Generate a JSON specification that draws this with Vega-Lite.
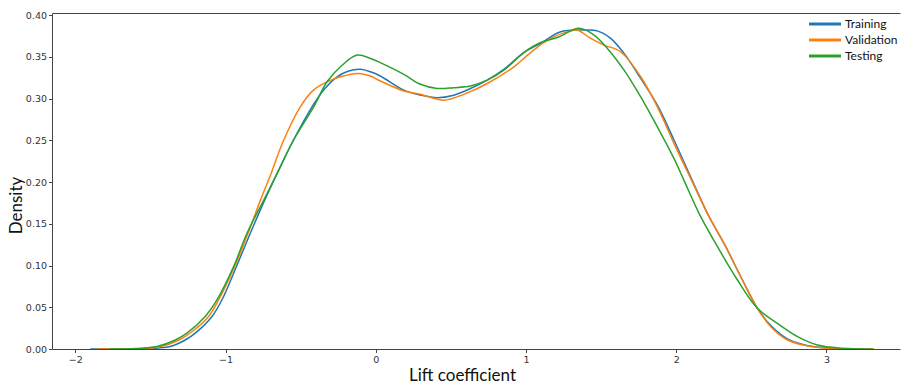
{
  "$schema": "https://vega.github.io/schema/vega-lite/v6.json",
  "width": 848,
  "height": 336,
  "autosize": {"type": "none"},
  "padding": {"left": 52, "top": 13, "right": 1, "bottom": 36},
  "config": {"view": {"stroke": null}, "font": "DejaVu Sans"},
  "data": {"values": [
    {"set": "Training", "x": -1.9, "y": 0},
    {"set": "Training", "x": -1.6, "y": 0.0003},
    {"set": "Training", "x": -1.45, "y": 0.0012},
    {"set": "Training", "x": -1.368, "y": 0.003},
    {"set": "Training", "x": -1.268, "y": 0.0108},
    {"set": "Training", "x": -1.201, "y": 0.019},
    {"set": "Training", "x": -1.09, "y": 0.039},
    {"set": "Training", "x": -1.024, "y": 0.0587},
    {"set": "Training", "x": -0.928, "y": 0.0986},
    {"set": "Training", "x": -0.835, "y": 0.1386},
    {"set": "Training", "x": -0.74, "y": 0.178},
    {"set": "Training", "x": -0.657, "y": 0.21},
    {"set": "Training", "x": -0.548, "y": 0.25},
    {"set": "Training", "x": -0.424, "y": 0.29},
    {"set": "Training", "x": -0.348, "y": 0.31},
    {"set": "Training", "x": -0.257, "y": 0.326},
    {"set": "Training", "x": -0.18, "y": 0.333},
    {"set": "Training", "x": -0.102, "y": 0.335},
    {"set": "Training", "x": -0.035, "y": 0.332},
    {"set": "Training", "x": 0.03, "y": 0.327},
    {"set": "Training", "x": 0.187, "y": 0.31},
    {"set": "Training", "x": 0.3, "y": 0.304},
    {"set": "Training", "x": 0.409, "y": 0.301},
    {"set": "Training", "x": 0.52, "y": 0.304},
    {"set": "Training", "x": 0.631, "y": 0.312},
    {"set": "Training", "x": 0.742, "y": 0.322},
    {"set": "Training", "x": 0.853, "y": 0.335},
    {"set": "Training", "x": 0.986, "y": 0.355},
    {"set": "Training", "x": 1.097, "y": 0.366},
    {"set": "Training", "x": 1.231, "y": 0.38},
    {"set": "Training", "x": 1.364, "y": 0.382},
    {"set": "Training", "x": 1.475, "y": 0.381},
    {"set": "Training", "x": 1.564, "y": 0.372},
    {"set": "Training", "x": 1.653, "y": 0.354},
    {"set": "Training", "x": 1.764, "y": 0.324},
    {"set": "Training", "x": 1.875, "y": 0.292},
    {"set": "Training", "x": 1.986, "y": 0.25},
    {"set": "Training", "x": 2.097, "y": 0.206},
    {"set": "Training", "x": 2.208, "y": 0.1625},
    {"set": "Training", "x": 2.33, "y": 0.1225},
    {"set": "Training", "x": 2.441, "y": 0.0826},
    {"set": "Training", "x": 2.541, "y": 0.0487},
    {"set": "Training", "x": 2.63, "y": 0.028},
    {"set": "Training", "x": 2.741, "y": 0.012},
    {"set": "Training", "x": 2.85, "y": 0.005},
    {"set": "Training", "x": 2.95, "y": 0.002},
    {"set": "Training", "x": 3.1, "y": 0.0004},
    {"set": "Training", "x": 3.25, "y": 0},
    {"set": "Validation", "x": -1.85, "y": 0},
    {"set": "Validation", "x": -1.6, "y": 0.0004},
    {"set": "Validation", "x": -1.45, "y": 0.002},
    {"set": "Validation", "x": -1.31, "y": 0.0108},
    {"set": "Validation", "x": -1.2, "y": 0.024},
    {"set": "Validation", "x": -1.113, "y": 0.039},
    {"set": "Validation", "x": -1.046, "y": 0.0587},
    {"set": "Validation", "x": -0.94, "y": 0.0986},
    {"set": "Validation", "x": -0.85, "y": 0.1386},
    {"set": "Validation", "x": -0.768, "y": 0.178},
    {"set": "Validation", "x": -0.697, "y": 0.21},
    {"set": "Validation", "x": -0.613, "y": 0.25},
    {"set": "Validation", "x": -0.502, "y": 0.29},
    {"set": "Validation", "x": -0.415, "y": 0.31},
    {"set": "Validation", "x": -0.324, "y": 0.32},
    {"set": "Validation", "x": -0.235, "y": 0.326},
    {"set": "Validation", "x": -0.115, "y": 0.33},
    {"set": "Validation", "x": -0.035, "y": 0.327},
    {"set": "Validation", "x": 0.03, "y": 0.321},
    {"set": "Validation", "x": 0.187, "y": 0.309},
    {"set": "Validation", "x": 0.298, "y": 0.305},
    {"set": "Validation", "x": 0.453, "y": 0.298},
    {"set": "Validation", "x": 0.586, "y": 0.305},
    {"set": "Validation", "x": 0.742, "y": 0.318},
    {"set": "Validation", "x": 0.92, "y": 0.338},
    {"set": "Validation", "x": 1.031, "y": 0.355},
    {"set": "Validation", "x": 1.164, "y": 0.372},
    {"set": "Validation", "x": 1.297, "y": 0.381},
    {"set": "Validation", "x": 1.342, "y": 0.382},
    {"set": "Validation", "x": 1.431, "y": 0.372},
    {"set": "Validation", "x": 1.519, "y": 0.364},
    {"set": "Validation", "x": 1.63, "y": 0.356},
    {"set": "Validation", "x": 1.764, "y": 0.326},
    {"set": "Validation", "x": 1.875, "y": 0.29},
    {"set": "Validation", "x": 1.986, "y": 0.246},
    {"set": "Validation", "x": 2.097, "y": 0.204},
    {"set": "Validation", "x": 2.208, "y": 0.1625},
    {"set": "Validation", "x": 2.33, "y": 0.1225},
    {"set": "Validation", "x": 2.441, "y": 0.0826},
    {"set": "Validation", "x": 2.541, "y": 0.0487},
    {"set": "Validation", "x": 2.63, "y": 0.0267},
    {"set": "Validation", "x": 2.741, "y": 0.0108},
    {"set": "Validation", "x": 2.896, "y": 0.003},
    {"set": "Validation", "x": 3.05, "y": 0.0006},
    {"set": "Validation", "x": 3.32, "y": 0},
    {"set": "Testing", "x": -1.77, "y": 0},
    {"set": "Testing", "x": -1.6, "y": 0.0005},
    {"set": "Testing", "x": -1.456, "y": 0.003},
    {"set": "Testing", "x": -1.334, "y": 0.0108},
    {"set": "Testing", "x": -1.257, "y": 0.019},
    {"set": "Testing", "x": -1.135, "y": 0.039},
    {"set": "Testing", "x": -1.057, "y": 0.0587},
    {"set": "Testing", "x": -0.946, "y": 0.0986},
    {"set": "Testing", "x": -0.857, "y": 0.1386},
    {"set": "Testing", "x": -0.746, "y": 0.178},
    {"set": "Testing", "x": -0.657, "y": 0.21},
    {"set": "Testing", "x": -0.548, "y": 0.25},
    {"set": "Testing", "x": -0.413, "y": 0.29},
    {"set": "Testing", "x": -0.324, "y": 0.32},
    {"set": "Testing", "x": -0.235, "y": 0.338},
    {"set": "Testing", "x": -0.124, "y": 0.352},
    {"set": "Testing", "x": -0.035, "y": 0.348},
    {"set": "Testing", "x": 0.03, "y": 0.343},
    {"set": "Testing", "x": 0.187, "y": 0.329},
    {"set": "Testing", "x": 0.298, "y": 0.317},
    {"set": "Testing", "x": 0.409, "y": 0.312},
    {"set": "Testing", "x": 0.52, "y": 0.313},
    {"set": "Testing", "x": 0.631, "y": 0.315},
    {"set": "Testing", "x": 0.742, "y": 0.322},
    {"set": "Testing", "x": 0.853, "y": 0.334},
    {"set": "Testing", "x": 0.986, "y": 0.355},
    {"set": "Testing", "x": 1.097, "y": 0.367},
    {"set": "Testing", "x": 1.208, "y": 0.373},
    {"set": "Testing", "x": 1.353, "y": 0.384},
    {"set": "Testing", "x": 1.453, "y": 0.376},
    {"set": "Testing", "x": 1.542, "y": 0.36},
    {"set": "Testing", "x": 1.653, "y": 0.334},
    {"set": "Testing", "x": 1.764, "y": 0.302},
    {"set": "Testing", "x": 1.875, "y": 0.266},
    {"set": "Testing", "x": 1.986, "y": 0.228},
    {"set": "Testing", "x": 2.052, "y": 0.202},
    {"set": "Testing", "x": 2.152, "y": 0.1625},
    {"set": "Testing", "x": 2.275, "y": 0.1225},
    {"set": "Testing", "x": 2.408, "y": 0.0826},
    {"set": "Testing", "x": 2.541, "y": 0.0487},
    {"set": "Testing", "x": 2.674, "y": 0.0307},
    {"set": "Testing", "x": 2.808, "y": 0.0148},
    {"set": "Testing", "x": 2.941, "y": 0.0048},
    {"set": "Testing", "x": 3.1, "y": 0.001},
    {"set": "Testing", "x": 3.31, "y": 0}
  ]},
  "layer": [
    {
      "mark": {"type": "line", "strokeWidth": 1.5, "interpolate": "catmull-rom", "clip": true},
      "encoding": {
        "x": {
          "field": "x", "type": "quantitative",
          "scale": {"domain": [-2.155, 3.49], "nice": false, "zero": false},
          "axis": {
            "values": [-2, -1, 0, 1, 2, 3], "format": "d", "grid": false,
            "domainColor": "#444", "domainWidth": 1, "tickColor": "#444", "tickSize": 3.5,
            "labelFont": "DejaVu Sans", "labelFontSize": 9.5, "labelColor": "#333", "labelPadding": 2,
            "title": "Lift coefficient", "titleFont": "Lato", "titleFontSize": 17, "titleFontWeight": "normal",
            "titleColor": "#111", "titlePadding": 3, "titleX": 410
          }
        },
        "y": {
          "field": "y", "type": "quantitative",
          "scale": {"domain": [0, 0.4024], "nice": false, "zero": true},
          "axis": {
            "values": [0, 0.05, 0.1, 0.15, 0.2, 0.25, 0.3, 0.35, 0.4], "format": ".2f", "grid": false,
            "domainColor": "#444", "domainWidth": 1, "tickColor": "#444", "tickSize": 3.5,
            "labelFont": "DejaVu Sans", "labelFontSize": 9.5, "labelColor": "#333", "labelPadding": 2,
            "title": "Density", "titleFont": "Lato", "titleFontSize": 17, "titleFontWeight": "normal",
            "titleColor": "#111", "titlePadding": 0, "titleY": 192
          }
        },
        "color": {
          "field": "set", "type": "nominal",
          "scale": {"domain": ["Training", "Validation", "Testing"], "range": ["#1f77b4", "#ff7f0e", "#2ca02c"]},
          "legend": {
            "title": null, "orient": "none", "legendX": 767, "legendY": 5,
            "symbolType": "M-4,0H4", "symbolSize": 64, "symbolStrokeWidth": 3,
            "labelFont": "Lato", "labelFontSize": 12, "labelColor": "#111", "labelOffset": 14,
            "rowPadding": 4
          }
        }
      }
    },
    {
      "mark": {"type": "line", "opacity": 0},
      "encoding": {
        "x": {
          "field": "x", "type": "quantitative",
          "axis": {"orient": "top", "labels": false, "ticks": false, "grid": false, "title": null, "domainColor": "#444", "domainWidth": 1}
        },
        "y": {"field": "y", "type": "quantitative", "axis": null}
      }
    }
  ],
  "resolve": {"axis": {"x": "independent", "y": "independent"}}
}
